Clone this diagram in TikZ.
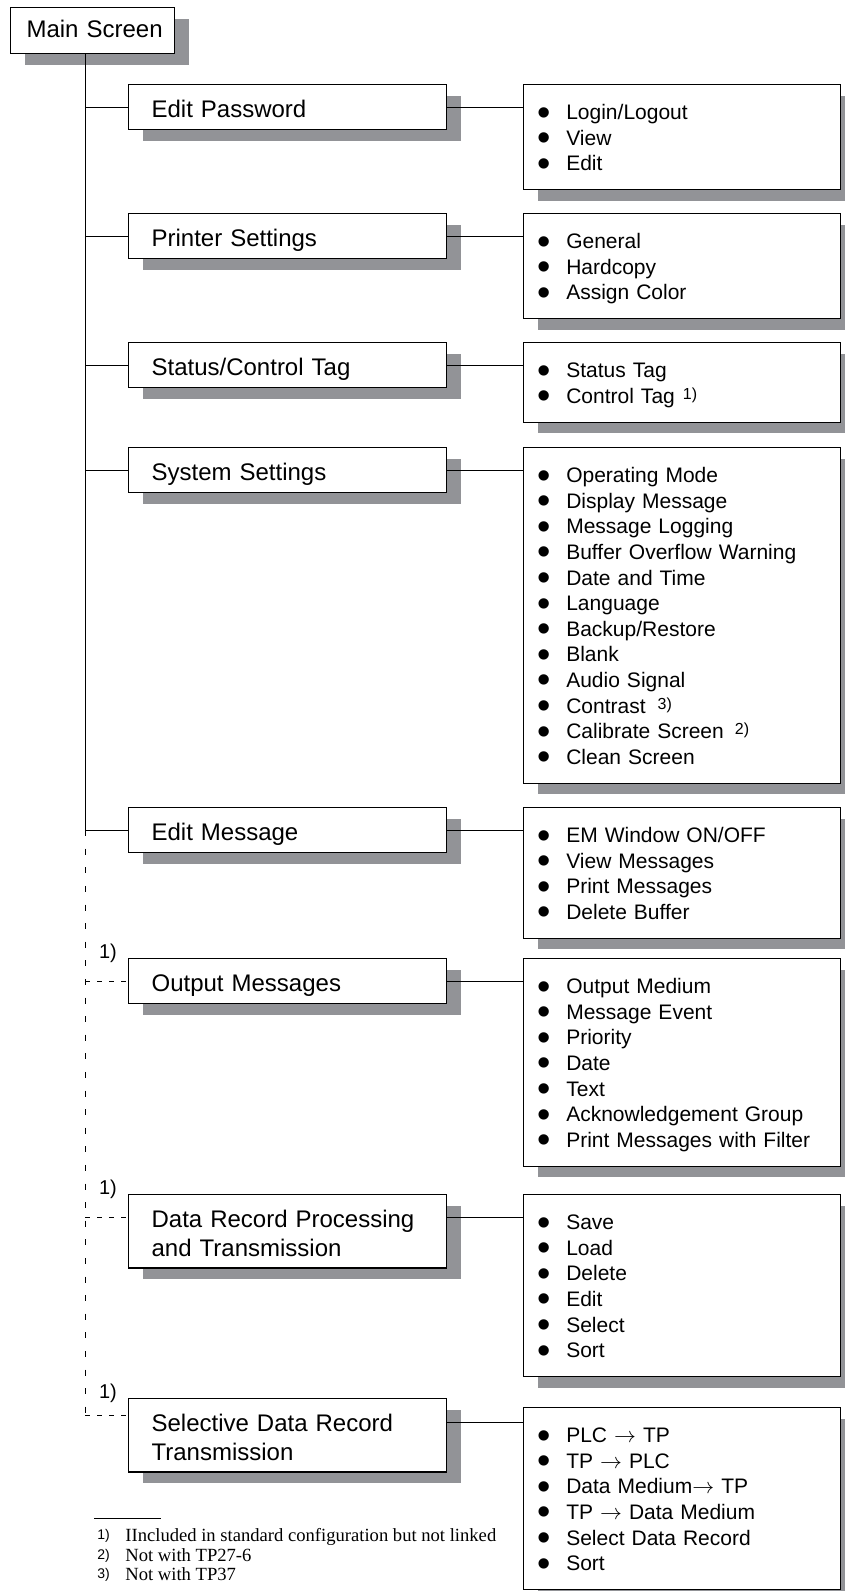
\documentclass[tikz,border=0pt]{standalone}
\usepackage{fontspec}
\setmainfont{Liberation Serif}
\setsansfont{Liberation Sans}
\usetikzlibrary{positioning,shadows}
\definecolor{shade}{RGB}{146,147,151}
\newcommand{\bul}{\makebox[14.25pt][l]{\raisebox{-2.7pt}[0pt][0pt]{\fontsize{19}{19}\selectfont\textbullet}}}
\newcommand{\fnref}[1]{\raisebox{2pt}{\fontsize{8}{8}\selectfont #1}}
\newcommand{\fnm}[1]{\makebox[14pt][l]{\sffamily\fontsize{7}{8}\selectfont\raisebox{1pt}{#1}}}
\newcommand{\tto}{\ensuremath{\rightarrow}}

\begin{document}
\begin{tikzpicture}[x=0.5pt,y=-0.5pt,node distance=38pt,
struts/.style 2 args={execute at begin node={\rule{0pt}{#1}},execute at end node={\rule[-#2]{0pt}{#2}}},
shadebox/.style={draw,line width=0.6pt,fill=white,drop shadow={shadow xshift=7pt,shadow yshift=-5.5pt,fill=shade,opacity=1}},
mainbox/.style={shadebox,anchor=north west,text width=82pt,align=center,inner xsep=0pt,inner ysep=0pt,font=\sffamily\fontsize{12}{14.2}\selectfont,struts={15pt}{8pt}},
menu/.style={shadebox,anchor=north west,align=left,text width=136pt,inner xsep=11.5pt,inner ysep=0pt,font=\sffamily\fontsize{12}{14.2}\selectfont,struts={16.5pt}{6pt}},
sub/.style={shadebox,align=left,text width=144.5pt,inner xsep=7pt,inner ysep=0pt,font=\sffamily\fontsize{10.5}{12.8}\selectfont,struts={17.5pt}{9.5pt}},
link/.style={line width=0.5pt},
opt/.style={line width=0.5pt,dash pattern=on 2.5pt off 3.5pt},
optv/.style={line width=0.5pt,dash pattern=on 3pt off 6.3pt},
fnlabel/.style={inner sep=0pt,font=\sffamily\fontsize{10}{12}\selectfont},
note/.style={anchor=base west,inner sep=0pt,font=\rmfamily\fontsize{9.3}{9.85}\selectfont}]
\useasboundingbox (0,0) rectangle (845,1591);
\node[mainbox] (ms) at (10,7) {\hspace{2pt}Main Screen};
\node[menu] (pw) at (128,84) {Edit Password};
\node[menu] (pr) at (128,213) {Printer Settings};
\node[menu] (st) at (128,342) {Status/Control Tag};
\node[menu] (sy) at (128,447) {System Settings};
\node[menu] (em) at (128,807) {Edit Message};
\node[menu] (om) at (128,958) {Output Messages};
\node[menu] (dr) at (128,1194) {Data Record Processing\\and Transmission};
\node[menu] (sd) at (128,1398) {Selective Data Record\\Transmission};
\node[sub,right=of pw.north east,anchor=north west] (pwi) {\bul Login/Logout\\\bul View\\\bul Edit};
\node[sub,right=of pr.north east,anchor=north west] (pri) {\bul General\\\bul Hardcopy\\\bul Assign Color};
\node[sub,right=of st.north east,anchor=north west] (sti) {\bul Status Tag\\\bul Control Tag\hspace{4pt}\fnref{1)}};
\node[sub,right=of sy.north east,anchor=north west] (syi) {\bul Operating Mode\\\bul Display Message\\\bul Message Logging\\\bul Buffer Overflow Warning\\\bul Date and Time\\\bul Language\\\bul Backup/Restore\\\bul Blank\\\bul Audio Signal\\\bul Contrast\hspace{6pt}\fnref{3)}\\\bul Calibrate Screen\hspace{5.5pt}\fnref{2)}\\\bul Clean Screen};
\node[sub,right=of em.north east,anchor=north west] (emi) {\bul EM Window ON/OFF\\\bul View Messages\\\bul Print Messages\\\bul Delete Buffer};
\node[sub,right=of om.north east,anchor=north west] (omi) {\bul Output Medium\\\bul Message Event\\\bul Priority\\\bul Date\\\bul Text\\\bul Acknowledgement Group\\\bul Print Messages with Filter};
\node[sub,right=of dr.north east,anchor=north west] (dri) {\bul Save\\\bul Load\\\bul Delete\\\bul Edit\\\bul Select\\\bul Sort};
\node[sub,right=of sd.north east,anchor=north west,yshift=-4.5pt] (sdi) {\bul PLC \tto{} TP\\\bul TP \tto{} PLC\\\bul Data Medium\tto{} TP\\\bul TP \tto{} Data Medium\\\bul Select Data Record\\\bul Sort};
\node[fnlabel] (n1) at ([xshift=-10pt,yshift=2.5pt]om.north west) {1)};
\node[fnlabel] (n2) at ([xshift=-10pt,yshift=2.5pt]dr.north west) {1)};
\node[fnlabel] (n3) at ([xshift=-10pt,yshift=2.5pt]sd.north west) {1)};
\coordinate (tk) at ([xshift=37.5pt]ms.south west);
\coordinate (drb) at ([yshift=-11.5pt]dr.north);
\coordinate (sdb) at ([yshift=-8.5pt]sd.north);
\coordinate (sdc) at ([yshift=-12pt]sd.north);
\draw[link] (tk)--(tk |- em.west);
\draw[optv] (tk |- em.west)--(tk |- sdb);
\draw[link] (tk |- pw.west)--(pw.west);\draw[link] (tk |- pr.west)--(pr.west);\draw[link] (tk |- st.west)--(st.west);
\draw[link] (tk |- sy.west)--(sy.west);\draw[link] (tk |- em.west)--(em.west);
\draw[opt] (tk |- om.west)--(om.west);\draw[opt] (tk |- drb)--(dr.west |- drb);\draw[opt] (tk |- sdb)--(sd.west |- sdb);
\draw[link] (pw.east)--(pw.east -| pwi.west);\draw[link] (pr.east)--(pr.east -| pri.west);\draw[link] (st.east)--(st.east -| sti.west);
\draw[link] (sy.east)--(sy.east -| syi.west);\draw[link] (em.east)--(em.east -| emi.west);\draw[link] (om.east)--(om.east -| omi.west);
\draw[link] (dr.east |- drb)--(dri.west |- drb);\draw[link] (sd.east |- sdc)--(sdi.west |- sdc);
\node[note] (fa) at (97,1541.5) {\fnm{1)}IIncluded in standard configuration but not linked};
\node[note] (fb) at ([yshift=-9.85pt]fa.base west) {\fnm{2)}Not with TP27-6};
\node[note] (fc) at ([yshift=-9.85pt]fb.base west) {\fnm{3)}Not with TP37};
\draw[link] ([shift={(-1.5pt,11.75pt)}]fa.base west)--++(33.5pt,0);
\end{tikzpicture}
\end{document}
